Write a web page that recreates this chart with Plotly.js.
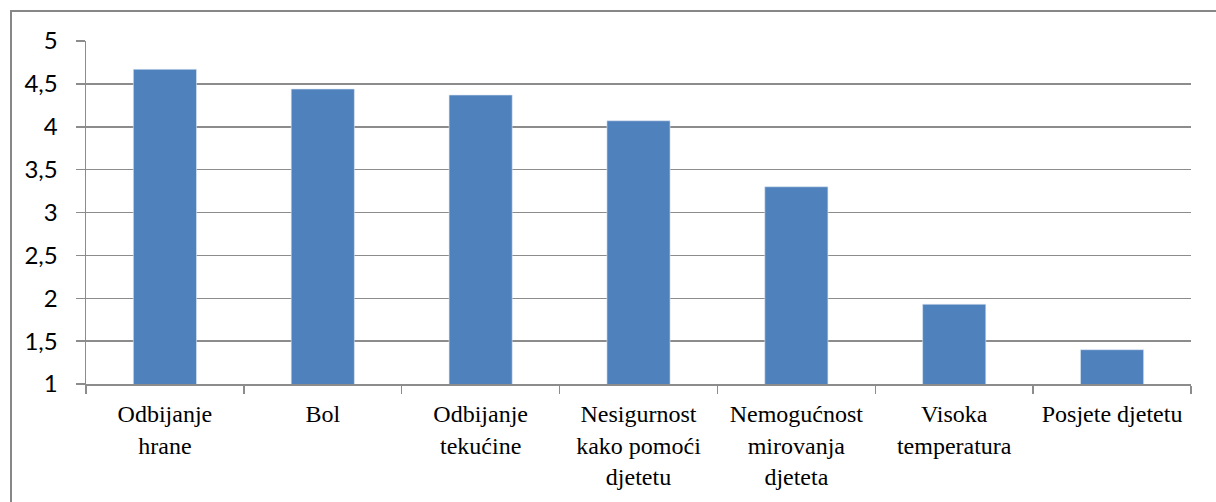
<!DOCTYPE html>
<html>
<head>
<meta charset="utf-8">
<script src="https://cdn.plot.ly/plotly-3.0.1.min.js"></script>
<style>
html,body{margin:0;padding:0;background:#fff;}
#wrap{position:relative;width:1216px;height:502px;overflow:hidden;}
#chart{position:absolute;left:0;top:0;width:1216px;height:502px;}
#frame{position:absolute;left:10px;top:10px;width:1300px;height:600px;border-left:2px solid #878787;border-top:2px solid #878787;pointer-events:none;}
#chart .xtick text, #chart .xtick tspan{font-family:'Liberation Serif','Times New Roman',serif !important;}
#chart .ytick text{font-family:'Lato',sans-serif !important;}
</style>
</head>
<body>
<div id="wrap"><div id="chart"></div><div id="frame"></div></div>
<script>
const categories = [
  "Odbijanje<br>hrane",
  "Bol",
  "Odbijanje<br>tekućine",
  "Nesigurnost<br>kako pomoći<br>djetetu",
  "Nemogućnost<br>mirovanja<br>djeteta",
  "Visoka<br>temperatura",
  "Posjete djetetu"
];
const values = [4.67, 4.44, 4.37, 4.07, 3.30, 1.93, 1.40];
const yTickValues = [1, 1.5, 2, 2.5, 3, 3.5, 4, 4.5, 5];

const trace = {
  type: 'bar',
  x: categories,
  y: values,
  marker: {color: '#4F81BD', line: {color: '#dce6f2', width: 0.6}},
  hoverinfo: 'x+y'
};

const layout = {
  width: 1216,
  height: 502,
  margin: {l: 86, r: 25, t: 41, b: 118},
  paper_bgcolor: 'rgba(0,0,0,0)',
  plot_bgcolor: '#ffffff',
  separators: ',.',
  showlegend: false,
  bargap: 0.6,
  xaxis: {
    type: 'category',
    tickson: 'boundaries',
    ticks: 'outside',
    ticklen: 8,
    tickwidth: 1.5,
    tickcolor: '#8c8c8c',
    showline: true,
    linecolor: '#8c8c8c',
    linewidth: 1.5,
    showgrid: false,
    tickangle: 0,
    ticklabelstandoff: 8,
    tickfont: {family: 'Liberation Serif', size: 24, color: '#000'},
    automargin: false
  },
  yaxis: {
    range: [1, 5],
    tickvals: yTickValues,
    ticks: 'outside',
    ticklen: 9,
    tickwidth: 1.5,
    tickcolor: '#8c8c8c',
    showline: true,
    linecolor: '#8c8c8c',
    linewidth: 1.5,
    showgrid: true,
    gridcolor: '#8c8c8c',
    gridwidth: 1.5,
    zeroline: false,
    ticklabelstandoff: 13,
    tickfont: {family: 'Lato', size: 24, color: '#000'},
    automargin: false
  }
};

Plotly.newPlot('chart', [trace], layout, {displayModeBar: false, staticPlot: true}).then(function(){
  document.querySelectorAll('#chart .xtick text, #chart .xtick tspan').forEach(function(el){
    el.setAttribute('font-family', 'Liberation Serif');
    el.style.fontFamily = "'Liberation Serif', serif";
  });
  document.querySelectorAll('#chart .ytick text').forEach(function(el){
    el.setAttribute('font-family', 'Lato');
  });
});
</script>
</body>
</html>
